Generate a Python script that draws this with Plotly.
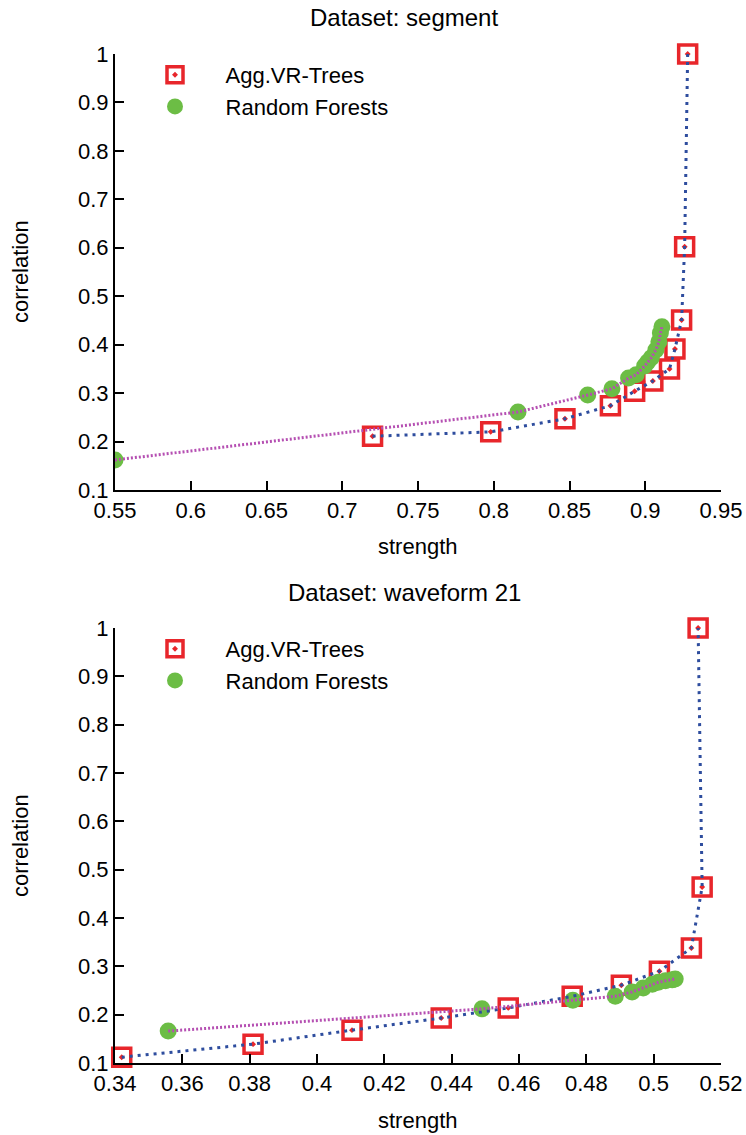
import plotly.graph_objects as go

# ---- Data: Dataset segment ----
seg_agg_strength = [0.720, 0.798, 0.847, 0.877, 0.893, 0.905, 0.916, 0.9196, 0.924, 0.926, 0.928]
seg_agg_corr = [0.211, 0.220, 0.247, 0.274, 0.304, 0.325, 0.350, 0.391, 0.451, 0.602, 1.000]
seg_rf_strength = [0.550, 0.816, 0.862, 0.878, 0.889, 0.894, 0.8996, 0.9016, 0.904, 0.907, 0.909, 0.910, 0.911]
seg_rf_corr = [0.162, 0.261, 0.296, 0.309, 0.331, 0.338, 0.356, 0.364, 0.373, 0.389, 0.406, 0.424, 0.437]

# ---- Data: Dataset waveform 21 ----
wav_agg_strength = [0.342, 0.381, 0.4104, 0.4369, 0.4568, 0.4758, 0.4904, 0.5017, 0.5112, 0.5144, 0.5132]
wav_agg_corr = [0.112, 0.139, 0.168, 0.193, 0.214, 0.238, 0.261, 0.290, 0.338, 0.464, 1.000]
wav_rf_strength = [0.3558, 0.449, 0.476, 0.4886, 0.4936, 0.4969, 0.4996, 0.5014, 0.5035, 0.5055, 0.5064]
wav_rf_corr = [0.166, 0.212, 0.230, 0.238, 0.247, 0.255, 0.263, 0.267, 0.270, 0.272, 0.274]

seg_xticks = [0.55, 0.6, 0.65, 0.7, 0.75, 0.8, 0.85, 0.9, 0.95]
seg_xtick_labels = ["0.55", "0.6", "0.65", "0.7", "0.75", "0.8", "0.85", "0.9", "0.95"]
wav_xticks = [0.34, 0.36, 0.38, 0.4, 0.42, 0.44, 0.46, 0.48, 0.5, 0.52]
wav_xtick_labels = ["0.34", "0.36", "0.38", "0.4", "0.42", "0.44", "0.46", "0.48", "0.5", "0.52"]
yticks = [0.1, 0.2, 0.3, 0.4, 0.5, 0.6, 0.7, 0.8, 0.9, 1.0]
ytick_labels = ["0.1", "0.2", "0.3", "0.4", "0.5", "0.6", "0.7", "0.8", "0.9", "1"]

titles = ["Dataset: segment", "Dataset: waveform 21"]
series_names = ["Agg.VR-Trees", "Random Forests"]

RED = "#e8262b"
GREEN = "#6cbd45"
BLUE = "#2e4d9e"
MAGENTA = "#b54fb2"
FONT = "Liberation Sans"
PAD = "\u00a0" * 5

fig = go.Figure()

def add_panel(xs_a, ys_a, xs_r, ys_r, xa, ya, legend):
    fig.add_trace(go.Scatter(x=xs_a, y=ys_a, mode="markers", name=PAD + series_names[0],
                             marker=dict(symbol="square-open-dot", size=18, color=RED,
                                         line=dict(width=3.5, color=RED)),
                             cliponaxis=False,
                             xaxis=xa, yaxis=ya, legend=legend))
    fig.add_trace(go.Scatter(x=xs_r, y=ys_r, mode="markers", name=PAD + series_names[1],
                             marker=dict(symbol="circle", size=17, color=GREEN),
                             xaxis=xa, yaxis=ya, legend=legend))
    fig.add_trace(go.Scatter(x=xs_a, y=ys_a, mode="lines", showlegend=False,
                             line=dict(color=BLUE, width=3, dash="3px,5px"),
                             xaxis=xa, yaxis=ya))
    fig.add_trace(go.Scatter(x=xs_r, y=ys_r, mode="lines", showlegend=False,
                             line=dict(color=MAGENTA, width=3, dash="2px,2px"),
                             xaxis=xa, yaxis=ya))

add_panel(seg_agg_strength, seg_agg_corr, seg_rf_strength, seg_rf_corr, "x", "y", "legend")
add_panel(wav_agg_strength, wav_agg_corr, wav_rf_strength, wav_rf_corr, "x2", "y2", "legend2")

H = 1135.0
axis_common = dict(showline=True, linecolor="black", linewidth=2, ticks="inside",
                   ticklen=9, tickwidth=1.5, tickcolor="black", showgrid=False,
                   zeroline=False, automargin=False,
                   tickfont=dict(family=FONT, size=22, color="black"))

fig.update_layout(
    template="none",
    width=746, height=1135,
    margin=dict(l=115, r=25, t=0, b=0, autoexpand=False),
    paper_bgcolor="white", plot_bgcolor="white",
    font=dict(family=FONT, size=22, color="black"),
    xaxis=dict(domain=[0, 1], range=[0.55, 0.95], tickvals=seg_xticks, ticktext=seg_xtick_labels,
               anchor="y", **axis_common),
    yaxis=dict(domain=[1 - 490 / H, 1 - 54 / H], range=[0.1, 1.0], tickvals=yticks,
               ticktext=ytick_labels, anchor="x", **axis_common),
    xaxis2=dict(domain=[0, 1], range=[0.34, 0.52], tickvals=wav_xticks, ticktext=wav_xtick_labels,
                anchor="y2", **axis_common),
    yaxis2=dict(domain=[1 - 1063 / H, 1 - 628 / H], range=[0.1, 1.0], tickvals=yticks,
                ticktext=ytick_labels, anchor="x2", **axis_common),
    legend=dict(x=(155 - 115) / 606, y=1 - 54 / H, xanchor="left", yanchor="top",
                bgcolor="rgba(0,0,0,0)", font=dict(family=FONT, size=22), tracegroupgap=0,
                itemsizing="trace"),
    legend2=dict(x=(155 - 115) / 606, y=1 - 628 / H, xanchor="left", yanchor="top",
                 bgcolor="rgba(0,0,0,0)", font=dict(family=FONT, size=22), tracegroupgap=0,
                 itemsizing="trace"),
    showlegend=True,
)

ann = []
ann.append(dict(text=titles[0], x=0.477, y=1 - 18 / H, xref="paper", yref="paper",
                showarrow=False, font=dict(family=FONT, size=24), yanchor="middle"))
ann.append(dict(text=titles[1], x=0.477, y=1 - 592 / H, xref="paper", yref="paper",
                showarrow=False, font=dict(family=FONT, size=24), yanchor="middle"))
for yy in [547, 1120]:
    ann.append(dict(text="strength", x=0.5, y=1 - yy / H, xref="paper", yref="paper",
                    showarrow=False, font=dict(family=FONT, size=22), yanchor="middle"))
for yy in [272, 846]:
    ann.append(dict(text="correlation", x=(20 - 115) / 606, y=1 - yy / H, xref="paper",
                    yref="paper", showarrow=False, textangle=-90,
                    font=dict(family=FONT, size=22), xanchor="center", yanchor="middle"))
fig.update_layout(annotations=ann)

fig.write_html("out.html")
